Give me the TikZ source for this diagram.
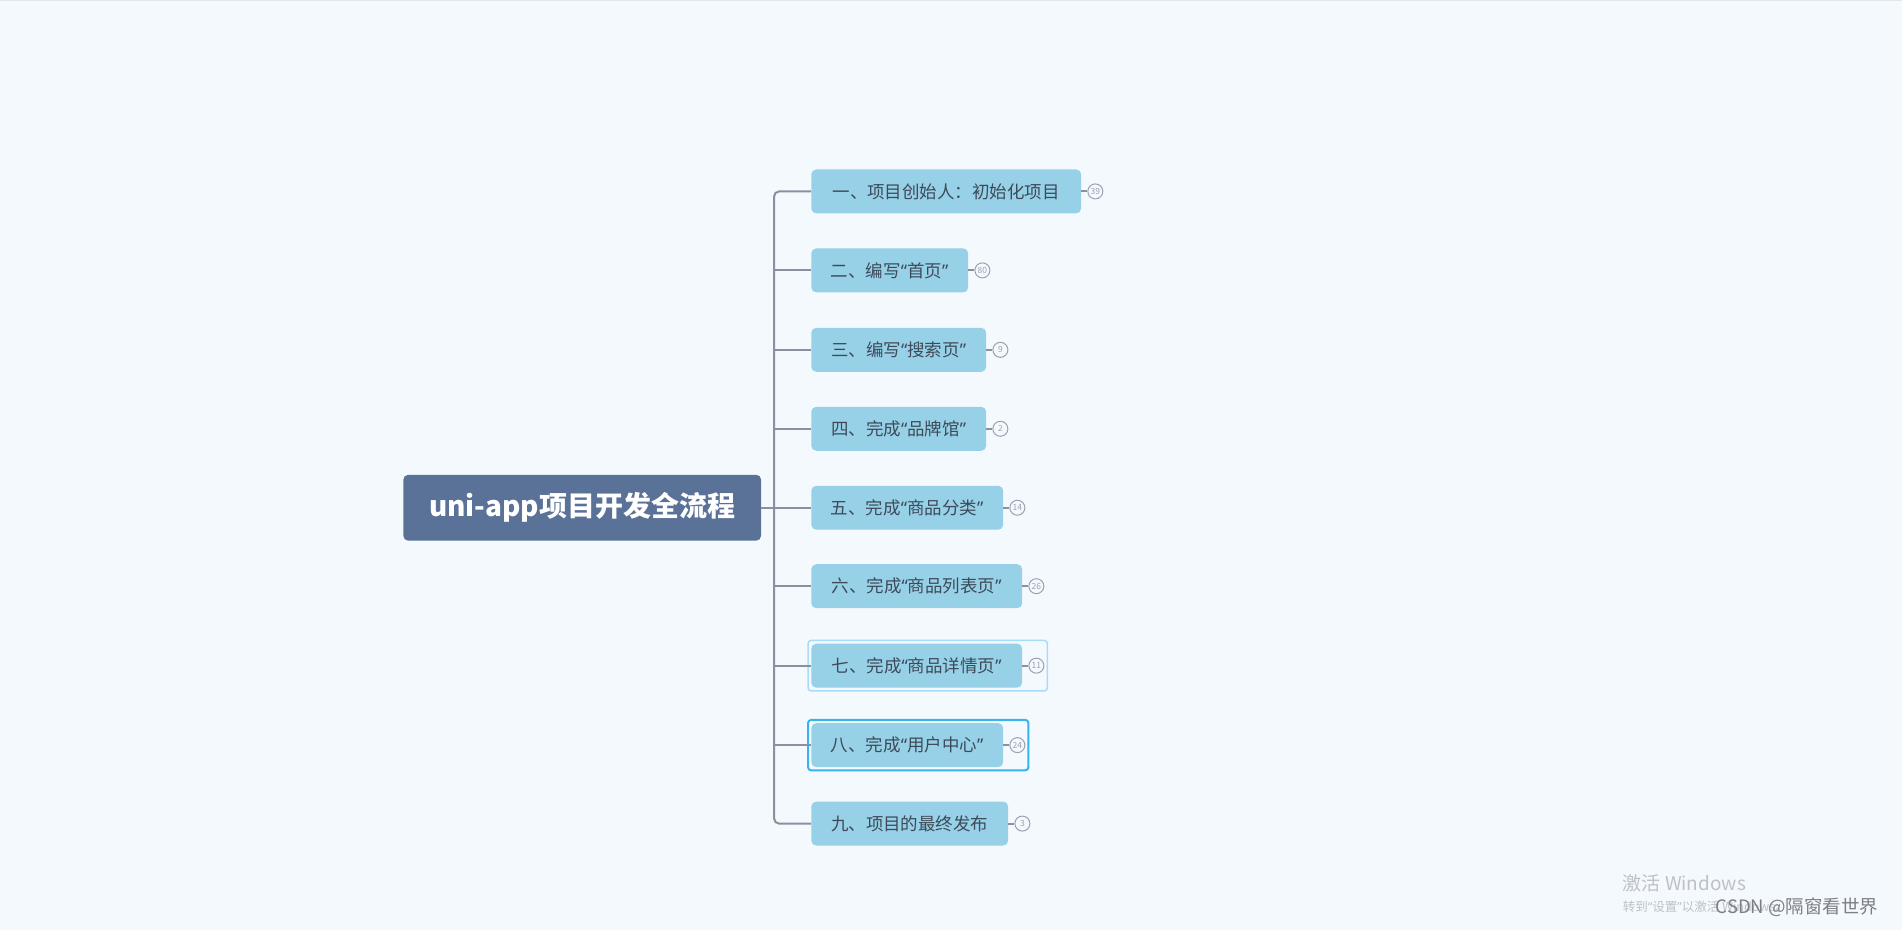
\documentclass[tikz,border=0pt]{standalone}
\usepackage{fontspec}
\newfontfamily\cjk{Noto Sans CJK SC}
\newfontfamily\latinq{Noto Sans}
\newcommand\qtext[1]{{\latinq “}#1{\latinq ”}}
\usetikzlibrary{fit}
\definecolor{bgcol}{HTML}{F4F9FE}
\definecolor{edgecol}{HTML}{E1E6EC}
\definecolor{rootcol}{HTML}{5B7298}
\definecolor{topiccol}{HTML}{96D1E7}
\definecolor{topictext}{HTML}{3E4A59}
\definecolor{linecol}{HTML}{8A90A2}
\definecolor{badgecol}{HTML}{9CA1B2}
\definecolor{softsel}{HTML}{A6DCF9}
\definecolor{hardsel}{HTML}{36B4EF}
\definecolor{wmlight}{HTML}{BEC2C6}
\definecolor{wmdark}{HTML}{7C7F83}
\begin{document}
\begin{tikzpicture}[x=1pt,y=-1pt,
  root/.style={fill=rootcol,rounded corners=5,text=white,inner sep=0,minimum width=358,minimum height=66,font=\cjk\fontsize{28}{32}\selectfont\bfseries},
  topic/.style={fill=topiccol,rounded corners=5,text=topictext,anchor=west,inner sep=0,minimum height=44,font=\cjk\fontsize{17.5}{20}\selectfont},
  badge/.style={circle,draw=badgecol,line width=1,minimum size=15,inner sep=0,text=badgecol,font=\cjk\fontsize{8.5}{9}\selectfont},
  branch/.style={draw=linecol,line width=2},
  selframe/.style={draw,rounded corners=3,inner sep=3}]
  \fill[bgcol] (0,0) rectangle (1902,930);
  \draw[edgecol,line width=1] (0,0.5) -- (1902,0.5);
  \node[root] (root) at (582,508) {uni-app项目开发全流程};
  \coordinate (trunk) at (774,508);
  \node[topic,minimum width=270] (t1) at (811,191.5) {一、项目创始人：初始化项目};
  \node[topic,minimum width=157] (t2) at (811,270.5) {二、编写\qtext{首页}};
  \node[topic,minimum width=175] (t3) at (811,350) {三、编写\qtext{搜索页}};
  \node[topic,minimum width=175] (t4) at (811,429) {四、完成\qtext{品牌馆}};
  \node[topic,minimum width=192] (t5) at (811,508) {五、完成\qtext{商品分类}};
  \node[topic,minimum width=211] (t6) at (811,586.5) {六、完成\qtext{商品列表页}};
  \node[topic,minimum width=211] (t7) at (811,666) {七、完成\qtext{商品详情页}};
  \node[topic,minimum width=192] (t8) at (811,745.5) {八、完成\qtext{用户中心}};
  \node[topic,minimum width=197] (t9) at (811,824) {九、项目的最终发布};
  \node[badge] (b1) at ([xshift=14]t1.east) {39};
  \node[badge] (b2) at ([xshift=14]t2.east) {80};
  \node[badge] (b3) at ([xshift=14]t3.east) {9};
  \node[badge] (b4) at ([xshift=14]t4.east) {2};
  \node[badge] (b5) at ([xshift=14]t5.east) {14};
  \node[badge] (b6) at ([xshift=14]t6.east) {26};
  \node[badge] (b7) at ([xshift=14]t7.east) {11};
  \node[badge] (b8) at ([xshift=14]t8.east) {24};
  \node[badge] (b9) at ([xshift=14]t9.east) {3};
  \node[selframe,draw=softsel,line width=1.5,fit=(t7)(b7)] (sel7) {};
  \node[selframe,draw=hardsel,line width=2,fit=(t8)(b8)] (sel8) {};
  \draw[branch] (root.east) -- (trunk);
  \draw[branch,rounded corners=5] (t1.west) -| (trunk) |- (t9.west);
  \draw[branch] (trunk |- t2.west) -- (t2.west);
  \draw[branch] (trunk |- t3.west) -- (t3.west);
  \draw[branch] (trunk |- t4.west) -- (t4.west);
  \draw[branch] (trunk |- t5.west) -- (t5.west);
  \draw[branch] (trunk |- t6.west) -- (t6.west);
  \draw[branch] (trunk |- t7.west) -- (t7.west);
  \draw[branch] (trunk |- t8.west) -- (t8.west);
  \draw[branch] (t1.east) -- (b1);
  \draw[branch] (t2.east) -- (b2);
  \draw[branch] (t3.east) -- (b3);
  \draw[branch] (t4.east) -- (b4);
  \draw[branch] (t5.east) -- (b5);
  \draw[branch] (t6.east) -- (b6);
  \draw[branch] (t7.east) -- (b7);
  \draw[branch] (t8.east) -- (b8);
  \draw[branch] (t9.east) -- (b9);
  \node[anchor=west,inner sep=0,text=wmlight,font=\cjk\fontsize{19}{20}\selectfont] (act) at (1623,884) {激活 Windows};
  \node[anchor=west,inner sep=0,text=wmlight,font=\cjk\fontsize{12.5}{14}\selectfont] (actnote) at (1623,907) {转到\qtext{设置}以激活 Windows。};
  \node[anchor=west,inner sep=0,text=wmdark,font=\cjk\fontsize{18.5}{20}\selectfont] (sign) at (1716,908) {CSDN @隔窗看世界};
\end{tikzpicture}
\end{document}
